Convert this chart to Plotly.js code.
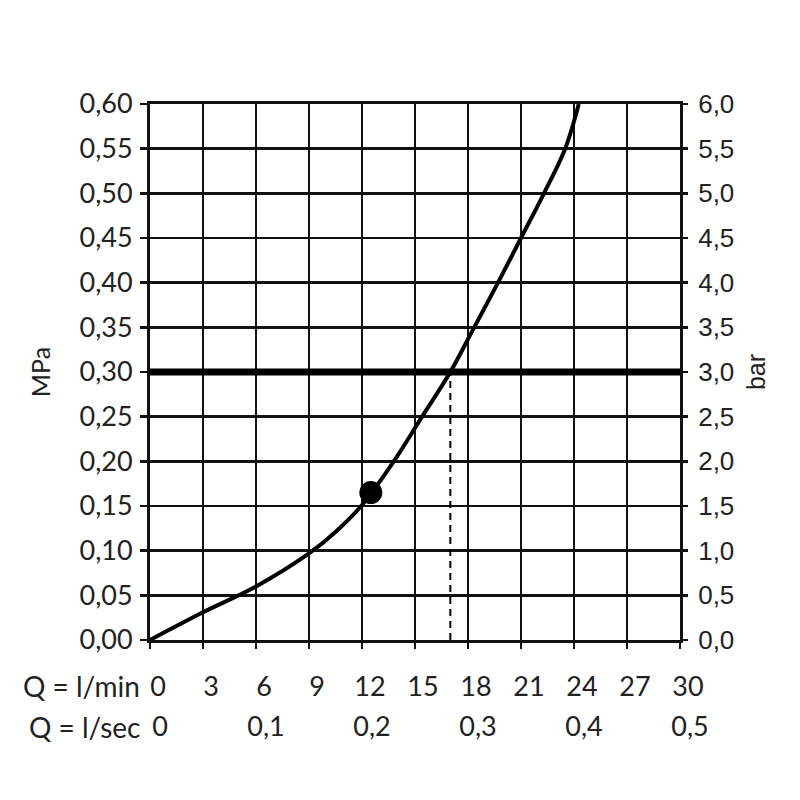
<!DOCTYPE html>
<html><head><meta charset="utf-8">
<script src="https://cdn.plot.ly/plotly-3.0.1.min.js"></script>
<style>html,body{margin:0;padding:0;background:#fff;}#chart{width:800px;height:800px;}</style>
</head><body><div id="chart"></div>
<script>
// Flow curve: Q in l/min, pressure in MPa
var flowLmin = [0, 3, 6, 9, 10.5, 12, 13.8, 15.4, 17, 18.35, 19.7, 21.0, 22.3, 23.5, 24.27];
var pressureMPa = [0, 0.031, 0.06, 0.097, 0.121, 0.151, 0.20, 0.25, 0.30, 0.35, 0.40, 0.45, 0.50, 0.55, 0.60];
// Operating point marker
var pointLmin = [12.5];
var pointMPa = [0.165];
// Reference pressure line (3 bar) and flow at that pressure
var refLineLmin = [0, 30];
var refLineMPa = [0.30, 0.30];
var dashLmin = [17, 17];
var dashMPa = [0, 0.30];
// Tick labels
var lminTicks = [0, 3, 6, 9, 12, 15, 18, 21, 24, 27, 30];
var lsecTicks = [0, 0.1, 0.2, 0.3, 0.4, 0.5];
var lsecText = ['0', '0,1', '0,2', '0,3', '0,4', '0,5'];
var mpaTicks = [0, 0.05, 0.10, 0.15, 0.20, 0.25, 0.30, 0.35, 0.40, 0.45, 0.50, 0.55, 0.60];
var barTicks = [0, 0.5, 1, 1.5, 2, 2.5, 3, 3.5, 4, 4.5, 5, 5.5, 6];

var fontMain = 'Lato, "Open Sans", sans-serif';
var fontRight = '"Liberation Sans", Arial, sans-serif';
var txtColor = '#222';

var traces = [
  {x: refLineLmin, y: refLineMPa, mode: 'lines', line: {color: '#000', width: 7}, hoverinfo: 'skip', showlegend: false},
  {x: dashLmin, y: dashMPa, mode: 'lines', line: {color: '#000', width: 2, dash: '7px,5px'}, showlegend: false},
  {x: flowLmin, y: pressureMPa, mode: 'lines', line: {color: '#000', width: 4, shape: 'spline', smoothing: 1.0}, showlegend: false},
  {x: pointLmin, y: pointMPa, mode: 'markers', marker: {color: '#000', size: 23}, showlegend: false},
  {x: [0], y: [0], xaxis: 'x2', yaxis: 'y2', mode: 'markers', marker: {opacity: 0}, hoverinfo: 'skip', showlegend: false}
];

var layout = {
  width: 800, height: 800,
  margin: {l: 150, r: 120, t: 104, b: 160},
  paper_bgcolor: '#fff', plot_bgcolor: '#fff',
  separators: ',.',
  showlegend: false,
  font: {family: fontMain, size: 27, color: txtColor},
  xaxis: {
    range: [0, 30], tickvals: lminTicks, ticktext: lminTicks.map(String),
    showgrid: true, gridcolor: '#111', gridwidth: 2.6,
    showline: true, linecolor: '#111', linewidth: 3, mirror: true,
    ticks: 'outside', ticklen: 6, tickwidth: 2.5, tickcolor: '#111',
    ticklabelstandoff: 15, ticklabelshift: 8,
    zeroline: false, fixedrange: true,
    tickfont: {family: fontMain, size: 27, color: txtColor}
  },
  xaxis2: {
    overlaying: 'x', anchor: 'y', side: 'bottom',
    range: [0, 0.5], tickvals: lsecTicks, ticktext: lsecText,
    showgrid: false, showline: false, ticks: '', zeroline: false,
    ticklabelstandoff: 68, ticklabelshift: 10,
    tickfont: {family: fontMain, size: 27, color: txtColor}
  },
  yaxis: {
    range: [0, 0.6], tickvals: mpaTicks, tickformat: '.2f',
    showgrid: true, gridcolor: '#111', gridwidth: 2.6,
    showline: true, linecolor: '#111', linewidth: 3, mirror: true,
    ticks: 'outside', ticklen: 7, tickwidth: 2.5, tickcolor: '#111',
    ticklabelstandoff: 2,
    zeroline: false, fixedrange: true,
    title: {text: 'MPa', standoff: 22, font: {family: fontMain, size: 25, color: txtColor}},
    tickfont: {family: fontMain, size: 27, color: txtColor}
  },
  yaxis2: {
    overlaying: 'y', side: 'right', anchor: 'x',
    range: [0, 6], tickvals: barTicks, tickformat: '.1f',
    showgrid: false, showline: false, zeroline: false,
    ticks: 'outside', ticklen: 7, tickwidth: 2.5, tickcolor: '#111',
    ticklabelstandoff: 5,
    title: {text: 'bar', standoff: 14, font: {family: fontRight, size: 25, color: txtColor}},
    tickfont: {family: fontRight, size: 26, color: txtColor}
  },
  annotations: [
    {xref: 'paper', yref: 'paper', x: 0, y: 0, xanchor: 'right', yanchor: 'middle', xshift: -8, yshift: -46,
     text: 'Q = l/min', showarrow: false, font: {family: fontMain, size: 28, color: txtColor}},
    {xref: 'paper', yref: 'paper', x: 0, y: 0, xanchor: 'right', yanchor: 'middle', xshift: -8, yshift: -87,
     text: 'Q = l/sec', showarrow: false, font: {family: fontMain, size: 28, color: txtColor}}
  ]
};

Plotly.newPlot('chart', traces, layout, {displayModeBar: false, staticPlot: true});
</script>
</body></html>
